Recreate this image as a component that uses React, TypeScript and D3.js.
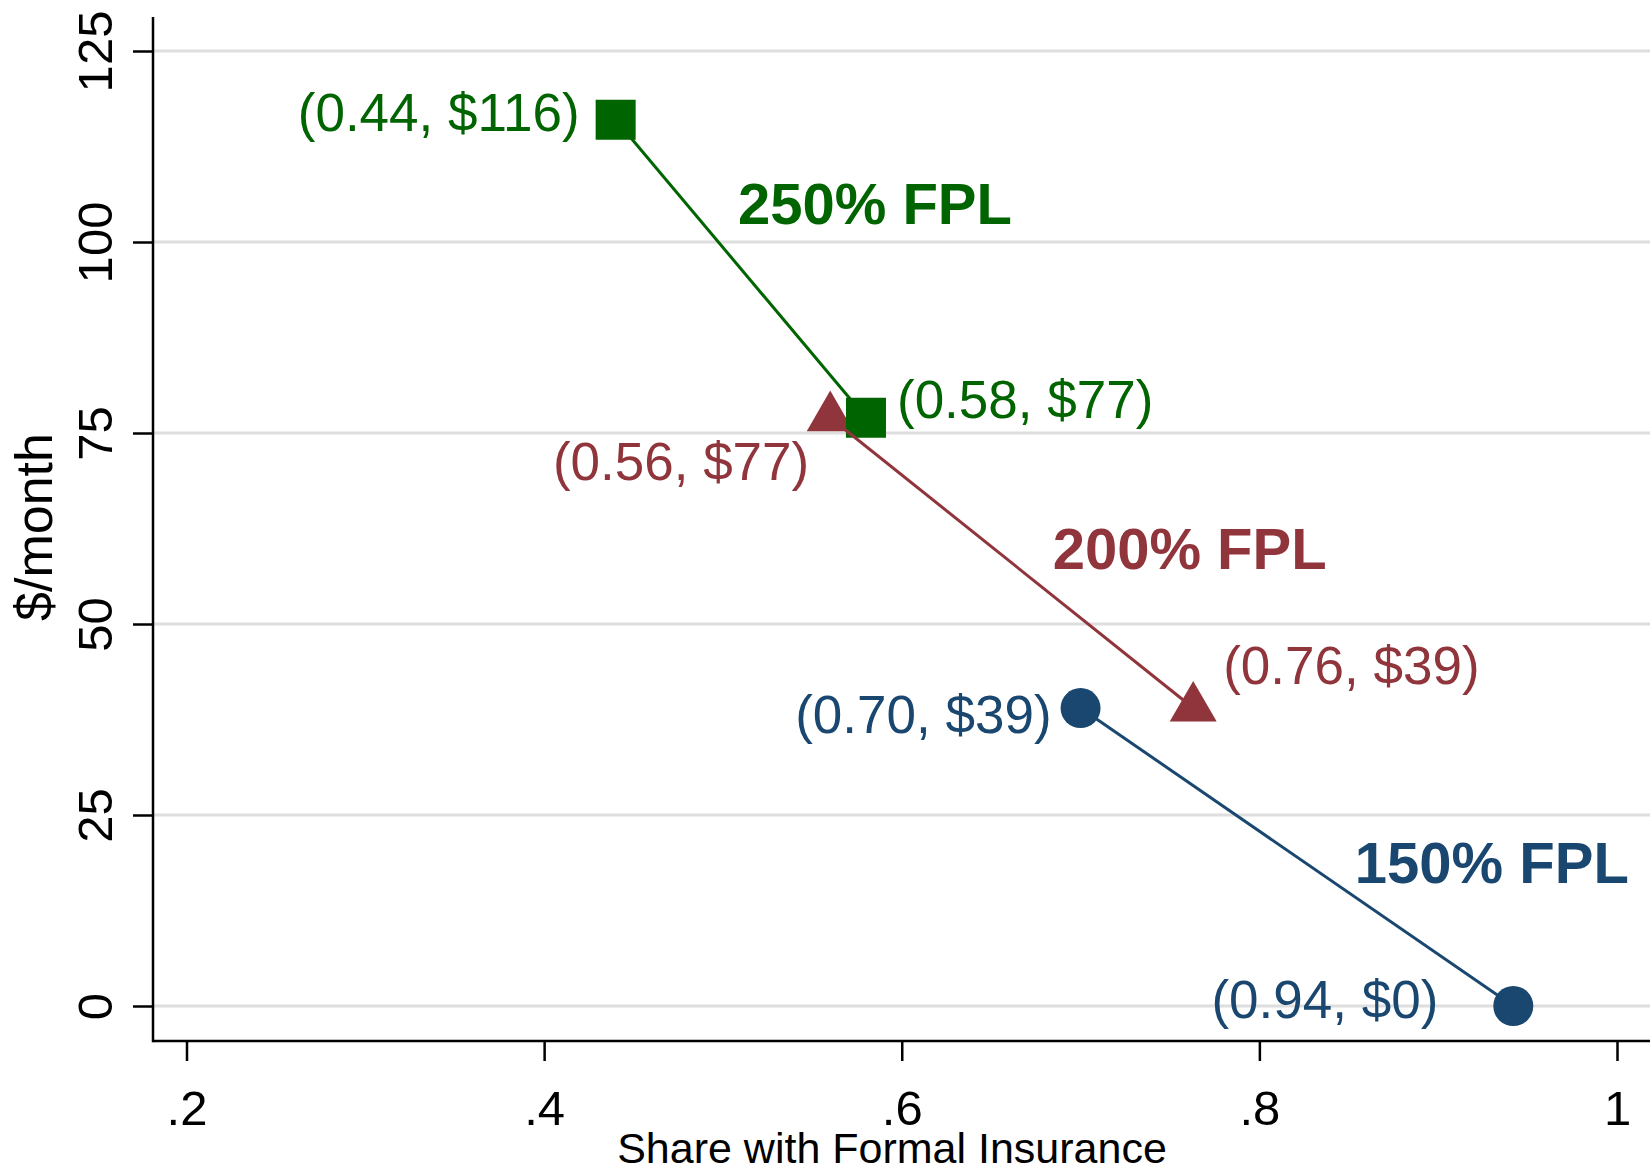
import React, { useEffect, useRef } from "react";
import * as d3 from "d3";

// Share with formal insurance vs. monthly premium, by income group (% of FPL)
const groups = ["150% FPL", "200% FPL", "250% FPL"];
const shareInsured = [
  [0.7, 0.942],
  [0.56, 0.763],
  [0.44, 0.58],
];
const premium = [
  [39, 0],
  [77, 39],
  [116, 77],
];
const pointLabels = [
  ["(0.70, $39)", "(0.94, $0)"],
  ["(0.56, $77)", "(0.76, $39)"],
  ["(0.44, $116)", "(0.58, $77)"],
];
// where the bold group names sit, in data units
const groupLabelX = [0.93, 0.761, 0.585];
const groupLabelY = [16.1, 57.2, 102.3];

const xTicks = [0.2, 0.4, 0.6, 0.8, 1];
const yTicks = [0, 25, 50, 75, 100, 125];

const colors = ["#1a476f", "#90353b", "#006400"];
const shapes = [d3.symbolCircle, d3.symbolTriangle, d3.symbolSquare];
const shapeSizes = [1257, 956, 1600];
// label offsets from the marker: [dx, dy, anchor]
const labelOffsets: [number, number, string][][] = [
  [[-29, 25, "end"], [-75, 12, "end"]],
  [[-21, 62, "end"], [30, -24, "start"]],
  [[-36, 11, "end"], [31, 0, "start"]],
];

const W = 1652;
const H = 1171;
const FONT = "'Liberation Sans', Arial, Helvetica, sans-serif";

export default function App() {
  const ref = useRef<SVGSVGElement>(null);

  useEffect(() => {
    const svg = d3.select(ref.current);
    svg.selectAll("*").remove();

    const left = 153, right = 1650, top = 17, bottom = 1041;

    const x = d3.scaleLinear().domain([0.2, 1]).range([186.5, 1617]);
    const y = d3.scaleLinear().domain([0, 125]).range([1006, 51]);

    // gridlines
    svg
      .append("g")
      .selectAll("line")
      .data(yTicks)
      .join("line")
      .attr("x1", left)
      .attr("x2", right)
      .attr("y1", (d) => y(d))
      .attr("y2", (d) => y(d))
      .attr("stroke", "#dedede")
      .attr("stroke-width", 3);

    // y axis
    const yAxis = svg
      .append("g")
      .attr("transform", `translate(${left},0)`)
      .call(d3.axisLeft(y).tickValues(yTicks).tickSize(20).tickSizeOuter(0));
    yAxis.select(".domain").remove();
    yAxis.selectAll(".tick line").attr("stroke", "#000").attr("stroke-width", 2.5);
    yAxis
      .selectAll(".tick text")
      .attr("transform", "rotate(-90)")
      .attr("x", 0)
      .attr("y", -41)
      .attr("dy", 0)
      .attr("text-anchor", "middle")
      .attr("fill", "#000")
      .style("font-family", FONT)
      .style("font-size", "49px");

    // x axis
    const xAxis = svg
      .append("g")
      .attr("transform", `translate(0,${bottom})`)
      .call(
        d3
          .axisBottom(x)
          .tickValues(xTicks)
          .tickSize(20)
          .tickSizeOuter(0)
          .tickFormat((d) => (+d === 1 ? "1" : d3.format(".1f")(+d).replace(/^0/, "")))
      );
    xAxis.select(".domain").remove();
    xAxis.selectAll(".tick line").attr("stroke", "#000").attr("stroke-width", 2.5);
    xAxis
      .selectAll(".tick text")
      .attr("y", 84)
      .attr("dy", 0)
      .attr("fill", "#000")
      .style("font-family", FONT)
      .style("font-size", "49px");

    // axis lines
    svg.append("line").attr("x1", left).attr("x2", left).attr("y1", top).attr("y2", bottom + 1.25)
      .attr("stroke", "#000").attr("stroke-width", 2.5);
    svg.append("line").attr("x1", left).attr("x2", right).attr("y1", bottom).attr("y2", bottom)
      .attr("stroke", "#000").attr("stroke-width", 2.5);

    // axis titles
    svg
      .append("text")
      .attr("transform", `translate(52,527) rotate(-90)`)
      .attr("text-anchor", "middle")
      .style("font-family", FONT)
      .style("font-size", "52px")
      .text("$/month");
    svg
      .append("text")
      .attr("x", 892)
      .attr("y", 1163)
      .attr("text-anchor", "middle")
      .style("font-family", FONT)
      .style("font-size", "43px")
      .text("Share with Formal Insurance");

    // markers
    groups.forEach((g, i) => {
      const pts = shareInsured[i].map((s, j) => [x(s), y(premium[i][j])]);
      svg
        .append("g")
        .selectAll("path")
        .data(pts)
        .join("path")
        .attr("transform", (d) => `translate(${d[0]},${d[1]})`)
        .attr("d", d3.symbol().type(shapes[i]).size(shapeSizes[i])())
        .attr("fill", colors[i]);
    });

    // connecting lines
    groups.forEach((g, i) => {
      const pts = shareInsured[i].map((s, j) => [x(s), y(premium[i][j])] as [number, number]);
      svg
        .append("path")
        .attr("d", d3.line()(pts))
        .attr("fill", "none")
        .attr("stroke", colors[i])
        .attr("stroke-width", 3);
    });

    // point labels
    groups.forEach((g, i) => {
      shareInsured[i].forEach((s, j) => {
        const [dx, dy, anchor] = labelOffsets[i][j];
        svg
          .append("text")
          .attr("x", x(s) + dx)
          .attr("y", y(premium[i][j]) + dy)
          .attr("text-anchor", anchor)
          .attr("fill", colors[i])
          .style("font-family", FONT)
          .style("font-size", "53px")
          .text(pointLabels[i][j]);
      });
    });

    // group names
    svg
      .append("g")
      .selectAll("text")
      .data(groups)
      .join("text")
      .attr("x", (d, i) => x(groupLabelX[i]))
      .attr("y", (d, i) => y(groupLabelY[i]))
      .attr("text-anchor", "middle")
      .attr("fill", (d, i) => colors[i])
      .style("font-family", FONT)
      .style("font-size", "58px")
      .style("font-weight", "bold")
      .text((d) => d);
  }, []);

  return (
    <svg
      ref={ref}
      width={W}
      height={H}
      style={{ position: "absolute", left: 0, top: 0, background: "#fff" }}
    />
  );
}
